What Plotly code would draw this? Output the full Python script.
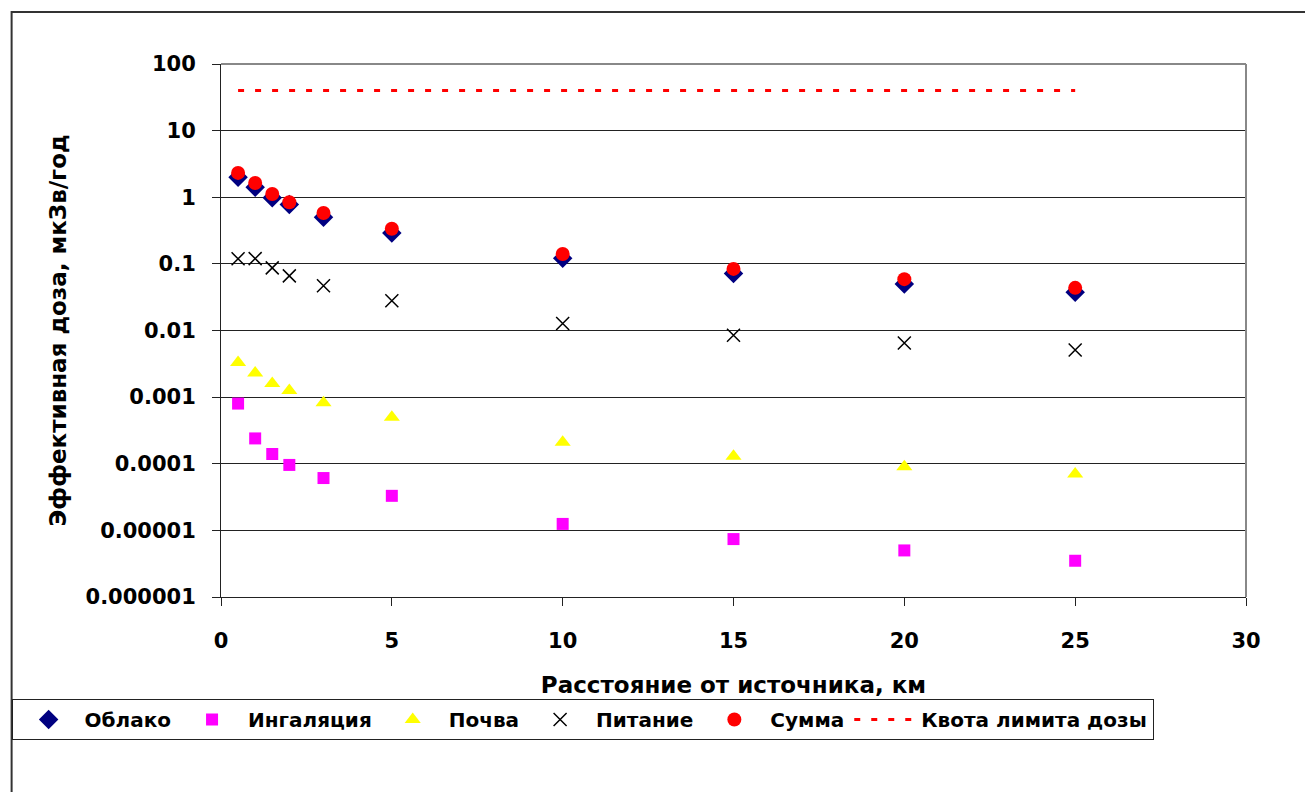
import plotly.graph_objects as go

# Distance from the source, km
distance_km = [0.5, 1, 1.5, 2, 3, 5, 10, 15, 20, 25]

# Effective dose by exposure pathway, µSv/year
dose_cloud = [2.0, 1.41, 0.98, 0.78, 0.50, 0.29, 0.121, 0.072, 0.050, 0.0376]
dose_inhalation = [0.0008, 0.00024, 0.00014, 0.000096, 0.000061, 0.000033,
                   0.0000125, 0.0000074, 0.0000050, 0.0000035]
dose_soil = [0.0033, 0.0023, 0.0016, 0.00126, 0.00082, 0.00050,
             0.00021, 0.00013, 0.00009, 0.00007]
dose_food = [0.119, 0.120, 0.087, 0.066, 0.047, 0.028, 0.0127, 0.0085, 0.0065, 0.0051]
dose_total = [2.32, 1.64, 1.12, 0.84, 0.58, 0.336, 0.141, 0.084, 0.059, 0.0437]
dose_quota = [40] * len(distance_km)

y_tickvals = [1e2, 1e1, 1, 1e-1, 1e-2, 1e-3, 1e-4, 1e-5, 1e-6]
y_ticktext = ["100", "10", "1", "0.1", "0.01", "0.001", "0.0001", "0.00001", "0.000001"]

FONT = "DejaVu Sans, sans-serif"
W, H = 1305, 792
L, R, T, B = 218, 1246, 64, 597  # plot area in pixels


def px_x(p):
    return (p - L) / (R - L)


def px_y(p):
    return (B - p) / (B - T)


fig = go.Figure()
fig.add_trace(go.Scatter(x=distance_km, y=dose_cloud, mode="markers", name="Облако",
                         marker=dict(symbol="diamond", size=15, color="#000080")))
fig.add_trace(go.Scatter(x=distance_km, y=dose_inhalation, mode="markers", name="Ингаляция",
                         marker=dict(symbol="square", size=12, color="#FF00FF")))
fig.add_trace(go.Scatter(x=distance_km, y=dose_soil, mode="markers", name="Почва",
                         marker=dict(symbol="triangle-up", size=14, color="#FFFF00")))
fig.add_trace(go.Scatter(x=distance_km, y=dose_food, mode="markers", name="Питание",
                         marker=dict(symbol="x-thin", size=13, color="#000000",
                                     line=dict(width=1.5, color="#000000"))))
fig.add_trace(go.Scatter(x=distance_km, y=dose_total, mode="markers", name="Сумма",
                         marker=dict(symbol="circle", size=14, color="#FF0000")))
fig.add_trace(go.Scatter(x=distance_km, y=dose_quota, mode="lines", name="Квота лимита дозы",
                         line=dict(color="#FF0000", width=3, dash="6px,11px")))

# outer chart frame
fig.add_shape(type="rect", xref="paper", yref="paper",
              x0=px_x(8), x1=px_x(1320), y0=px_y(12), y1=px_y(810),
              line=dict(color="#333333", width=2), layer="below")

fig.update_layout(
    width=W, height=H,
    margin=dict(l=L, r=W - R, t=T, b=H - B),
    paper_bgcolor="white", plot_bgcolor="white",
    font=dict(family=FONT, size=21, color="black", weight="bold"),
    showlegend=True,
    legend=dict(orientation="h", x=px_x(8), xanchor="left", y=px_y(699), yanchor="top",
                bordercolor="#222222", borderwidth=1, bgcolor="white",
                font=dict(family=FONT, size=20, color="black", weight="bold"),
                itemwidth=62, tracegroupgap=0),
    xaxis=dict(range=[0, 30], dtick=5, tick0=0, showgrid=False, zeroline=False,
               showline=True, linecolor="#222222", linewidth=1,
               ticks="outside", ticklen=8, tickcolor="#222222", ticklabelstandoff=17,
               title=dict(text="Расстояние от источника, км", standoff=24,
                          font=dict(size=23, weight="bold"))),
    yaxis=dict(type="log", range=[-6, 2], tickvals=y_tickvals, ticktext=y_ticktext,
               showgrid=True, gridcolor="#222222", gridwidth=1, zeroline=False,
               showline=True, linecolor="#222222", linewidth=1,
               ticks="outside", ticklen=8, tickcolor="#222222", ticklabelstandoff=12,
               title=dict(text="Эффективная доза, мкЗв/год", standoff=12,
                          font=dict(size=23, weight="bold"))),
)

# plot-area border on the top and right edges
fig.add_shape(type="line", xref="paper", yref="paper", x0=0, x1=1, y0=1, y1=1,
              line=dict(color="#888888", width=2))
fig.add_shape(type="line", xref="paper", yref="paper", x0=1, x1=1, y0=0, y1=1,
              line=dict(color="#888888", width=2))

fig.write_html("out.html")
